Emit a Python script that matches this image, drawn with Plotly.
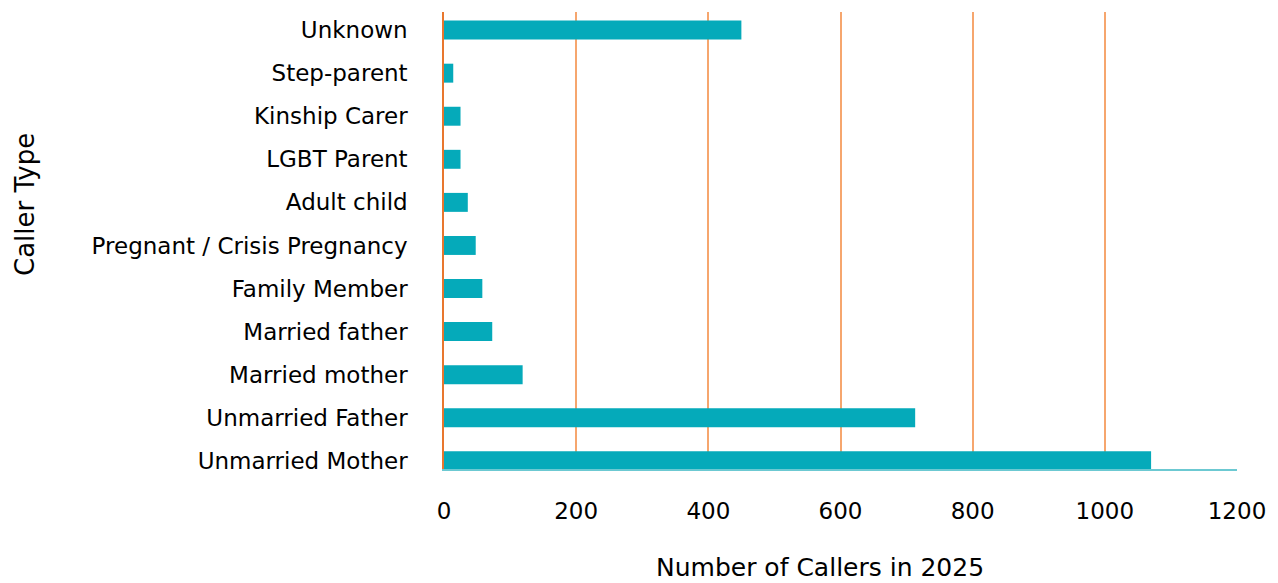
import plotly.graph_objects as go

categories = ["Unmarried Mother", "Unmarried Father", "Married mother", "Married father",
              "Family Member", "Pregnant / Crisis Pregnancy", "Adult child", "LGBT Parent",
              "Kinship Carer", "Step-parent", "Unknown"]
callers = [1070, 713, 119, 73, 58, 48, 36, 25, 25, 14, 450]
tick_vals = [0, 200, 400, 600, 800, 1000, 1200]

FONT = "DejaVu Sans"
TEAL = "#05AABA"

fig = go.Figure(go.Bar(
    y=list(range(len(categories))), x=callers, orientation="h",
    marker=dict(color=TEAL, line=dict(width=0)), width=0.44,
))

L, R, T, B = 436, 49, 4, 122
PW, PH = 1278 - L - R, 583 - T - B

fig.update_layout(
    width=1278, height=583,
    margin=dict(l=L, r=R, t=T, b=B),
    plot_bgcolor="white", paper_bgcolor="white",
    showlegend=False,
    font=dict(family=FONT, size=23, color="#000000"),
    xaxis=dict(
        range=[0, 1200], tickvals=tick_vals, showgrid=True, gridcolor="#F6A66E", gridwidth=1.5,
        zeroline=False, showline=True, linecolor="#6CC9D2", linewidth=1.5,
        ticks="", ticklabelstandoff=21, tickfont=dict(size=23, family=FONT),
    ),
    yaxis=dict(
        range=[-0.19, 10.42], tickvals=list(range(len(categories))), ticktext=categories,
        showgrid=False, zeroline=False, showline=True, linecolor="#E8772E", linewidth=1.5,
        ticks="", ticklabelstandoff=30, tickfont=dict(size=23, family=FONT),
    ),
    annotations=[
        dict(text="Caller Type", textangle=-90, xref="paper", yref="paper",
             x=(25 - 8 - L) / PW, y=(PH + T - (205 - 8)) / PH, xanchor="center", yanchor="middle",
             showarrow=False, font=dict(size=26, family=FONT, color="#000000")),
        dict(text="Number of Callers in 2025", xref="paper", yref="paper",
             x=(820 - 8 - L) / PW, y=(PH + T - (567 - 8)) / PH, xanchor="center", yanchor="middle",
             showarrow=False, font=dict(size=25, family=FONT, color="#000000")),
    ],
)

fig.write_html("out.html")
